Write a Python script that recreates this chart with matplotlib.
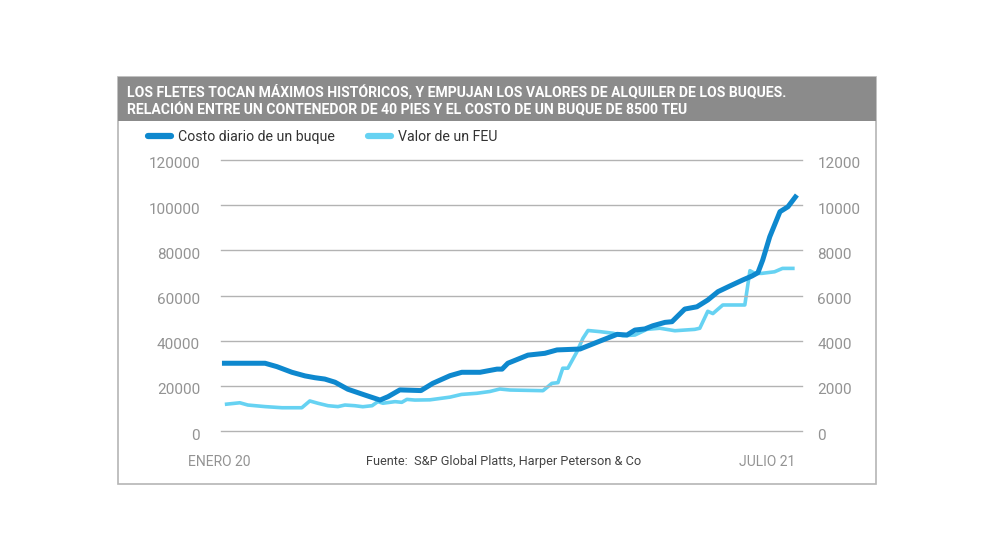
import matplotlib
matplotlib.use("Agg")
import matplotlib.pyplot as plt
from matplotlib.patches import Rectangle
from matplotlib.transforms import ScaledTranslation

plt.rcParams['font.family'] = ['Roboto', 'DejaVu Sans']

# ---- data (months since January 2020) ----
costo_t = [0.0, 1.35, 1.72, 2.19, 2.6, 2.91, 3.22, 3.54, 3.94, 4.48, 4.95, 5.2, 5.57,
           6.23, 6.6, 7.14, 7.51, 8.08, 8.61, 8.77, 8.95, 9.58, 10.11, 10.49, 11.21,
           11.83, 12.37, 12.68, 12.93, 13.24, 13.49, 13.87, 14.09, 14.49, 14.87, 15.21,
           15.53, 15.9, 16.31, 16.59, 16.78, 16.93, 17.15, 17.47, 17.72, 18.0]
costo_v = [30000, 30000, 28500, 26000, 24400, 23600, 23000, 21600, 18500, 15900, 13700,
           15200, 18200, 17900, 21100, 24500, 26000, 26000, 27400, 27400, 30000, 33600,
           34400, 35900, 36300, 39800, 42800, 42500, 44700, 45200, 46600, 48100, 48400,
           54000, 55000, 58000, 61700, 64200, 66900, 68600, 70100, 75700, 86000, 97100,
           99300, 104500]

feu_t = [0.09, 0.56, 0.81, 1.35, 1.88, 2.5, 2.75, 3.0, 3.32, 3.63, 3.85, 4.16, 4.41,
         4.7, 4.88, 5.04, 5.42, 5.63, 5.79, 6.04, 6.51, 7.14, 7.5, 7.98, 8.39, 8.7,
         9.02, 10.05, 10.33, 10.52, 10.67, 10.83, 11.11, 11.3, 11.46, 11.83, 12.24,
         12.55, 12.93, 13.3, 13.71, 14.18, 14.8, 14.96, 15.21, 15.37, 15.68, 16.37,
         16.53, 16.68, 16.9, 17.3, 17.55, 17.93]
feu_v = [1180, 1250, 1150, 1080, 1030, 1030, 1330, 1230, 1120, 1080, 1150, 1120, 1075,
         1120, 1300, 1230, 1300, 1270, 1400, 1370, 1380, 1500, 1620, 1670, 1750, 1860,
         1815, 1785, 2110, 2140, 2780, 2780, 3500, 4100, 4450, 4400, 4330, 4220, 4250,
         4500, 4550, 4440, 4500, 4550, 5300, 5200, 5580, 5580, 7100, 6980, 6980, 7050,
         7200, 7200]

left_ticks = [0, 20000, 40000, 60000, 80000, 100000, 120000]
right_ticks = [0, 2000, 4000, 6000, 8000, 10000, 12000]

title_lines = ["LOS FLETES TOCAN MÁXIMOS HISTÓRICOS, Y EMPUJAN LOS VALORES DE ALQUILER DE LOS BUQUES.",
               "RELACIÓN ENTRE UN CONTENEDOR DE 40 PIES Y EL COSTO DE UN BUQUE DE 8500 TEU"]
label_costo = "Costo diario de un buque"
label_feu = "Valor de un FEU"
x_start_label = "ENERO 20"
x_end_label = "JULIO 21"
source = "Fuente:  S&P Global Platts, Harper Peterson & Co"

DARK = "#0E88CE"
LIGHT = "#5ED0F2"
TICKC = "#939393"

W, H = 992, 558
fig = plt.figure(figsize=(W / 100, H / 100), dpi=100)
fig.patch.set_facecolor("white")

def fx(px):
    return px / W

def fy(py):
    return 1 - py / H

# outer frame and title band
fig.add_artist(Rectangle((fx(118), fy(484)), fx(876) - fx(118), fy(77) - fy(484),
                         transform=fig.transFigure, facecolor="none",
                         edgecolor="#b5b5b5", lw=1.2))
fig.add_artist(Rectangle((fx(118), fy(121)), fx(876) - fx(118), fy(77) - fy(121),
                         transform=fig.transFigure, facecolor="#8b8b8b",
                         edgecolor="none"))
fig.text(fx(127), fy(92), title_lines[0], color="white", fontsize=10.1,
         fontweight="bold", va="center", ha="left")
fig.text(fx(127), fy(110), title_lines[1], color="white", fontsize=10.1,
         fontweight="bold", va="center", ha="left")

# axes
ax = fig.add_axes([fx(221), fy(431), fx(802) - fx(221), fy(160) - fy(431)])
ax2 = ax.twinx()

l1, = ax.plot(costo_t, costo_v, color=DARK, lw=3.6, solid_capstyle="butt",
              solid_joinstyle="round", label=label_costo, zorder=3)
l2, = ax2.plot(feu_t, feu_v, color=LIGHT, lw=2.6, solid_capstyle="butt",
               solid_joinstyle="round", label=label_feu, zorder=2, alpha=0.95)
ax.set_zorder(ax2.get_zorder() + 1)
ax.patch.set_visible(False)

ax.set_xlim(-0.03, 18.16)
ax.set_ylim(0, 120000)
ax2.set_ylim(0, 12000)
ax.set_yticks(left_ticks)
ax.set_yticklabels([str(v) for v in left_ticks])
ax2.set_yticks(right_ticks)
ax2.set_yticklabels([str(v) for v in right_ticks])
ax.set_xticks([])
ax.grid(axis="y", color="#b3b3b3", lw=1.0)
ax.set_axisbelow(True)
for gl in ax.yaxis.get_gridlines():
    gl.set_clip_on(False)

for a in (ax, ax2):
    for s in a.spines.values():
        s.set_visible(False)
    a.tick_params(axis="y", length=0, labelsize=11, labelcolor=TICKC)
ax.tick_params(axis="y", pad=15)
ax2.tick_params(axis="y", pad=11)
off = ScaledTranslation(0, -3 / 100, fig.dpi_scale_trans)
for lab in ax.get_yticklabels() + ax2.get_yticklabels():
    lab.set_transform(lab.get_transform() + off)

# legend
leg = fig.legend([l1, l2], [label_costo, label_feu], loc="center left",
                 bbox_to_anchor=(fx(148), fy(137)), ncol=2, frameon=False,
                 fontsize=10.2, handlelength=1.6, handletextpad=0.55,
                 columnspacing=2.3, borderpad=0, borderaxespad=0)
for h in leg.legend_handles:
    h.set_linewidth(4.5)
    h.set_solid_capstyle("round")
for t in leg.get_texts():
    t.set_color("#333333")

# bottom labels
fig.text(fx(188), fy(462), x_start_label, color=TICKC, fontsize=10, va="center", ha="left")
fig.text(fx(795), fy(462), x_end_label, color=TICKC, fontsize=10, va="center", ha="right")
fig.text(fx(366), fy(462), source, color="#444444", fontsize=9.2, va="center", ha="left")

fig.savefig("out.png", dpi=100, facecolor="white")
